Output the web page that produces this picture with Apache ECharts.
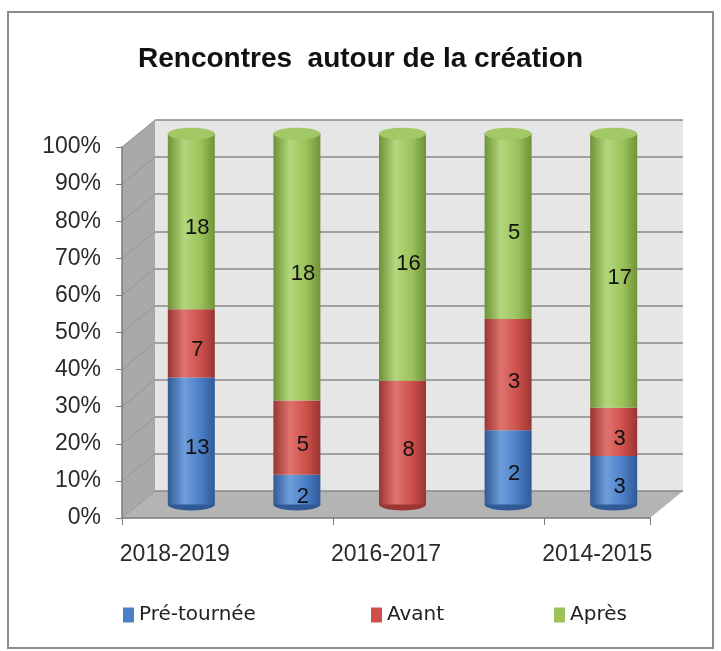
<!DOCTYPE html>
<html>
<head>
<meta charset="utf-8">
<script src="https://cdn.jsdelivr.net/npm/echarts@6/dist/echarts.min.js"></script>
<style>
html,body{margin:0;padding:0;background:#fff;}
#chart{width:721px;height:651px;}
</style>
</head>
<body>
<div id="chart"></div>
<script>
// ---- Data ----
const categories = ['2018-2019', '2017-2018', '2016-2017', '2015-2016', '2014-2015'];
const seriesNames = ['Pré-tournée', 'Avant', 'Après'];
const preTournee = [13, 2, 0, 2, 3];
const avant = [7, 5, 8, 3, 3];
const apres = [18, 18, 16, 5, 17];
const yMin = 0, yMax = 100, yInterval = 10;

// ---- Layout / style ----
const FL = 122, FT = 147, PW = 528, PH = 371;   // front plane of the plot
const DX = 33, DY = -27;                          // depth offset of back wall
const MX = DX / 2, MY = DY / 2;                   // mid depth for cylinders
const BAR_W = 47;
const colors = ['#4a7ec6', '#cd504b', '#9bc35a'];
const darks = ['#2f5a96', '#9a3532', '#6f9238'];
const lights = ['#6f9edb', '#e0736e', '#b4d67c'];

function cyl(i) {
  return {
    type: 'linear', x: 0, y: 0, x2: 1, y2: 0,
    colorStops: [
      {offset: 0, color: darks[i]},
      {offset: 0.35, color: lights[i]},
      {offset: 0.7, color: colors[i]},
      {offset: 1, color: darks[i]}
    ]
  };
}

const raw = [preTournee, avant, apres];
const totals = categories.map((_, k) => raw.reduce((s, a) => s + a[k], 0));
const pct = raw.map(a => a.map((v, k) => v / totals[k] * 100));
const bottomColor = categories.map((_, k) => {
  for (let i = 0; i < raw.length; i++) if (raw[i][k] > 0) return darks[i];
  return darks[0];
});

const chart = echarts.init(document.getElementById('chart'), null, {renderer: 'canvas'});

const grids = [
  {left: FL + DX, top: FT + DY, width: PW, height: PH, show: true, backgroundColor: '#e6e6e6', borderWidth: 0}, // back wall
  {left: FL, top: FT, width: PW, height: PH},                 // front axes
  {left: FL + MX, top: FT + MY, width: PW, height: PH},       // bars
  {left: FL + MX, top: FT + MY, width: PW, height: PH}        // caps
];

const xAxes = grids.map((g, i) => ({
  type: 'category', gridIndex: i, data: categories,
  show: i === 1,
  axisLine: {show: true, lineStyle: {color: '#7a7a7a', width: 1.5}},
  axisTick: {show: true, length: 7, lineStyle: {color: '#7a7a7a'}},
  axisLabel: {interval: 1, margin: 25, fontSize: 23, color: '#2a2a2a', fontFamily: 'Liberation Sans, Arial'}
}));
const yAxes = grids.map((g, i) => ({
  type: 'value', gridIndex: i, min: yMin, max: yMax, interval: yInterval,
  show: i <= 1,
  axisLine: {show: i === 1, lineStyle: {color: '#7a7a7a', width: 1.5}},
  axisTick: {show: i === 1, length: 6, lineStyle: {color: '#7a7a7a'}},
  axisLabel: {show: i === 1, formatter: '{value}%', margin: 21, fontSize: 23, color: '#2a2a2a', fontFamily: 'Liberation Sans, Arial'},
  splitLine: {show: i === 0, lineStyle: {color: '#8a8a8a', width: 1.5}}
}));

const series = seriesNames.map((name, i) => ({
  name: name, type: 'bar', stack: 'total', xAxisIndex: 2, yAxisIndex: 2,
  barWidth: BAR_W, z: 2,
  itemStyle: {color: cyl(i)},
  label: {
    show: true, position: 'inside', offset: [6, 7], fontSize: 22, color: '#111', fontFamily: 'Liberation Sans, Arial',
    formatter: p => raw[i][p.dataIndex] > 0 ? String(raw[i][p.dataIndex]) : ''
  },
  data: pct[i]
}));

series.push({
  type: 'pictorialBar', xAxisIndex: 3, yAxisIndex: 3, symbol: 'circle',
  symbolSize: [BAR_W, 12], symbolPosition: 'end', symbolOffset: [0, '-50%'], z: 5,
  itemStyle: {color: '#a3c966', borderColor: '#7ea043', borderWidth: 1},
  data: categories.map(() => yMax), silent: true
});
series.push({
  type: 'pictorialBar', xAxisIndex: 3, yAxisIndex: 3, symbol: 'circle',
  symbolSize: [BAR_W, 12], symbolPosition: 'start', symbolOffset: [0, '50%'], z: 1,
  data: categories.map((c, k) => ({value: yMax, itemStyle: {color: bottomColor[k]}})), silent: true
});

// decorative 3D walls derived from layout constants
const graphics = [
  {type: 'rect', shape: {x: 8, y: 12, width: 705, height: 636}, style: {fill: 'none', stroke: '#8c8c8c', lineWidth: 2}, z: 0},
  {type: 'polygon', shape: {points: [[FL, FT], [FL + DX, FT + DY], [FL + DX, FT + DY + PH], [FL, FT + PH]]},
   style: {fill: '#a9a9a9'}, z: 0},
  {type: 'polygon', shape: {points: [[FL, FT + PH], [FL + DX, FT + DY + PH], [FL + DX + PW, FT + DY + PH], [FL + PW, FT + PH]]},
   style: {fill: '#b4b4b4'}, z: 0}
];
const nTicks = (yMax - yMin) / yInterval;
for (let t = 0; t <= nTicks; t++) {
  const y = FT + PH - t * PH / nTicks;
  graphics.push({type: 'line', shape: {x1: FL, y1: y, x2: FL + DX, y2: y + DY}, style: {stroke: '#969696', lineWidth: 1}, z: 0});
}

const legendFont = {fontSize: 20, color: '#222', fontFamily: 'DejaVu Sans'};
const legendPos = [118, 366, 549];

chart.setOption({
  animation: false,
  backgroundColor: '#fff',
  title: {
    text: 'Rencontres  autour de la création', left: 'center', top: 40,
    textStyle: {fontSize: 28, fontWeight: 'bold', color: '#111', fontFamily: 'Liberation Sans, Arial'}
  },
  legend: seriesNames.map((n, i) => ({
    data: [{name: n, itemStyle: {color: colors[i]}}], left: legendPos[i], top: 600, icon: 'rect', itemWidth: 11, itemHeight: 15, itemGap: 3,
    textStyle: legendFont, selectedMode: false
  })),
  color: colors,
  grid: grids,
  xAxis: xAxes,
  yAxis: yAxes,
  series: series,
  graphic: graphics
});
</script>
</body>
</html>
